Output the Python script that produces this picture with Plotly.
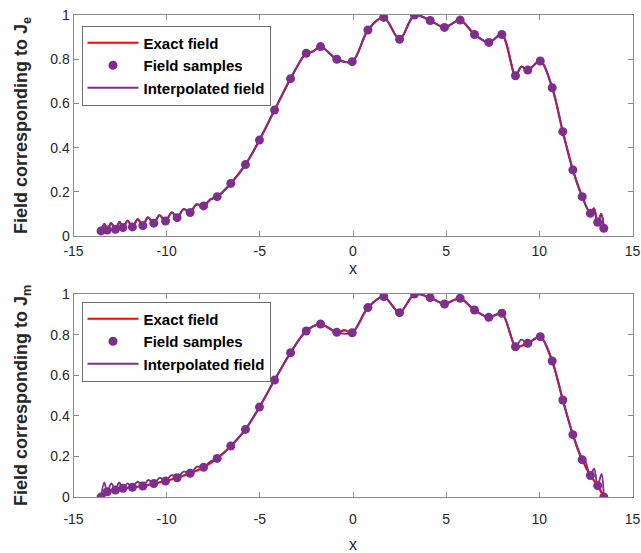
import plotly.graph_objects as go

# ---------------- data ----------------
x_samples = [-13.52, -13.19, -12.75, -12.35, -11.84, -11.28, -10.69, -10.06, -9.44, -8.74,
             -8.02, -7.29, -6.56, -5.77, -5.02, -4.21, -3.35, -2.51, -1.74, -0.87,
             -0.04, 0.80, 1.65, 2.50, 3.30, 4.14, 4.91, 5.75, 6.52, 7.29,
             7.99, 8.72, 9.38, 10.05, 10.69, 11.26, 11.80, 12.30, 12.74, 13.13, 13.46]

y_top_samples = [0.023, 0.027, 0.030, 0.038, 0.041, 0.047, 0.058, 0.068, 0.083, 0.106,
                 0.136, 0.178, 0.238, 0.323, 0.434, 0.570, 0.712, 0.827, 0.857, 0.800,
                 0.789, 0.932, 0.989, 0.890, 1.000, 0.975, 0.944, 0.977, 0.912, 0.876,
                 0.912, 0.725, 0.751, 0.792, 0.671, 0.472, 0.299, 0.178, 0.103, 0.062, 0.035]

y_bot_samples = [0.000, 0.026, 0.034, 0.043, 0.048, 0.054, 0.066, 0.079, 0.095, 0.117,
                 0.146, 0.190, 0.251, 0.333, 0.443, 0.576, 0.711, 0.818, 0.852, 0.811,
                 0.809, 0.933, 0.987, 0.908, 1.000, 0.982, 0.951, 0.979, 0.921, 0.885,
                 0.905, 0.740, 0.757, 0.790, 0.670, 0.478, 0.307, 0.184, 0.106, 0.056, 0.000]

# extra curve points seen between the samples (ripples of the curves)
top_bump_x = [-13.34, -12.98, -12.53, -12.09, -11.55, -11.01, -10.39, -9.72, -9.08, -8.40, -7.66,
              -2.15, 9.03, 12.93, 13.32]
top_bump_y = [0.055, 0.058, 0.064, 0.069, 0.076, 0.084, 0.094, 0.107, 0.122, 0.143, 0.165,
              0.835, 0.766, 0.125, 0.100]

bot_interp_bump_x = [-13.35, -12.97, -12.55, -12.10, -11.56, -10.98, -10.37, -9.75, -9.09, -8.38, -7.66,
                     9.03, 12.39, 12.94, 13.34]
bot_interp_bump_y = [0.072, 0.067, 0.072, 0.067, 0.075, 0.084, 0.095, 0.108, 0.125, 0.149, 0.175,
                     0.775, 0.196, 0.141, 0.113]

bot_exact_extra_x = [-0.45, 5.35, 9.05]
bot_exact_extra_y = [0.822, 0.968, 0.745]

x_ticks = [-15, -10, -5, 0, 5, 10, 15]
x_ticktext = ["-15", "-10", "-5", "0", "5", "10", "15"]
y_ticks = [0, 0.2, 0.4, 0.6, 0.8, 1]
y_ticktext = ["0", "0.2", "0.4", "0.6", "0.8", "1"]

RED = "#ff0000"
PURPLE = "#7e2f8e"
AXIS = "#8a8a8a"
TEXT = "#262626"
FONT = "Liberation Sans, Arial, sans-serif"


def merged(xa, ya, xb, yb):
    pts = sorted(zip(list(xa) + list(xb), list(ya) + list(yb)))
    return [p[0] for p in pts], [p[1] for p in pts]


top_curve_x, top_curve_y = merged(x_samples, y_top_samples, top_bump_x, top_bump_y)
bot_interp_x, bot_interp_y = merged(x_samples, y_bot_samples, bot_interp_bump_x, bot_interp_bump_y)
bot_exact_x, bot_exact_y = merged(x_samples, y_bot_samples, bot_exact_extra_x, bot_exact_extra_y)

fig = go.Figure()

# ---- top panel ----
fig.add_trace(go.Scatter(x=top_curve_x, y=top_curve_y, mode="lines", name="Exact field",
                         line=dict(color=RED, width=2.2, shape="spline", smoothing=0.9),
                         xaxis="x", yaxis="y", legend="legend"))
fig.add_trace(go.Scatter(x=x_samples, y=y_top_samples, mode="markers", name="Field samples",
                         marker=dict(color=PURPLE, size=9), xaxis="x", yaxis="y", legend="legend"))
fig.add_trace(go.Scatter(x=top_curve_x, y=top_curve_y, mode="lines", name="Interpolated field",
                         line=dict(color=PURPLE, width=1.9, shape="spline", smoothing=0.9),
                         xaxis="x", yaxis="y", legend="legend"))

# ---- bottom panel ----
fig.add_trace(go.Scatter(x=bot_exact_x, y=bot_exact_y, mode="lines", name="Exact field",
                         line=dict(color=RED, width=2.2, shape="spline", smoothing=0.8),
                         xaxis="x2", yaxis="y2", legend="legend2"))
fig.add_trace(go.Scatter(x=x_samples, y=y_bot_samples, mode="markers", name="Field samples",
                         marker=dict(color=PURPLE, size=9), xaxis="x2", yaxis="y2", legend="legend2"))
fig.add_trace(go.Scatter(x=bot_interp_x, y=bot_interp_y, mode="lines", name="Interpolated field",
                         line=dict(color=PURPLE, width=1.9, shape="spline", smoothing=0.9),
                         xaxis="x2", yaxis="y2", legend="legend2"))

W, H = 641, 553
xdom = [73.5 / W, 632.5 / W]

axis_common = dict(showline=True, linecolor=AXIS, linewidth=1, mirror="ticks", ticks="inside",
                   ticklen=5, tickcolor=AXIS, showgrid=False, zeroline=False, automargin=False,
                   tickfont=dict(family=FONT, size=14, color=TEXT))

xtitle_font = dict(family=FONT, size=16, color=TEXT)
ytitle_font = dict(family=FONT, size=18, color=TEXT)

legend_common = dict(bgcolor="white", bordercolor="#6e6e6e", borderwidth=1,
                     font=dict(family=FONT, size=15, color="black", weight="bold"),
                     xanchor="left", yanchor="top", itemwidth=51, tracegroupgap=0)

fig.update_layout(
    width=W, height=H, margin=dict(l=0, r=0, t=0, b=0, autoexpand=False),
    paper_bgcolor="white", plot_bgcolor="white",
    xaxis=dict(axis_common, range=[-15, 15], tickvals=x_ticks, ticktext=x_ticktext, domain=xdom,
               anchor="y", ticklabelstandoff=2,
               title=dict(text="x", font=xtitle_font, standoff=5)),
    yaxis=dict(axis_common, range=[0, 1], tickvals=y_ticks, ticktext=y_ticktext,
               domain=[(H - 236) / H, (H - 15) / H], anchor="x",
               title=dict(text="<b>Field corresponding to J<sub>e</sub></b>", font=ytitle_font, standoff=17)),
    xaxis2=dict(axis_common, range=[-15, 15], tickvals=x_ticks, ticktext=x_ticktext, domain=xdom,
                anchor="y2", ticklabelstandoff=9,
                title=dict(text="x", font=xtitle_font, standoff=14)),
    yaxis2=dict(axis_common, range=[0, 1], tickvals=y_ticks, ticktext=y_ticktext,
                domain=[(H - 497) / H, (H - 294) / H], anchor="x2",
                title=dict(text="<b>Field corresponding to J<sub>m</sub></b>", font=ytitle_font, standoff=17)),
    legend=dict(legend_common, x=81.5 / W, y=(H - 25.5) / H),
    legend2=dict(legend_common, x=81.5 / W, y=(H - 301.5) / H),
    showlegend=True,
)

fig.write_html("out.html")
